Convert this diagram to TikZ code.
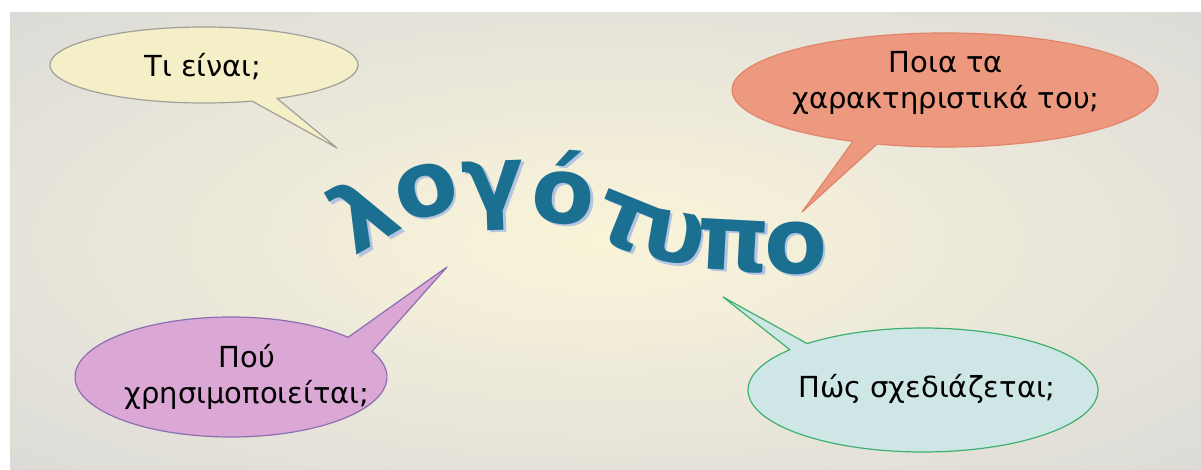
\documentclass[tikz,border=0pt]{standalone}
\usepackage{fontspec}
\setmainfont{DejaVu Sans}
\newfontfamily\logofont{DejaVu Sans}
\definecolor{bgc}{RGB}{249,243,215}
\definecolor{bgc2}{RGB}{245,240,217}
\definecolor{bgm}{RGB}{233,230,218}
\definecolor{bgm2}{RGB}{221,220,215}
\definecolor{bgo}{RGB}{212,212,212}
\definecolor{b1f}{RGB}{245,239,199}
\definecolor{b1d}{RGB}{160,160,155}
\definecolor{b2f}{RGB}{236,153,128}
\definecolor{b2d}{RGB}{226,132,106}
\definecolor{b3f}{RGB}{219,168,214}
\definecolor{b3d}{RGB}{140,110,178}
\definecolor{b4f}{RGB}{206,231,230}
\definecolor{b4d}{RGB}{62,176,112}
\definecolor{logoc}{RGB}{27,112,145}
\definecolor{shadowc}{RGB}{178,196,224}
\pgfdeclareradialshading{glow}{\pgfpoint{0bp}{0bp}}{color(0bp)=(bgc); color(7bp)=(bgc2); color(20bp)=(bgm); color(34bp)=(bgm2); color(46bp)=(bgo); color(50bp)=(bgo)}
\tikzset{
  bubble/.style={line width=1.2pt, line join=round},
  qtext/.style={font=\fontsize{29}{36}\selectfont, align=center, inner sep=0pt, text=black},
  logo/.style={font=\logofont\bfseries\fontsize{92}{92}\selectfont, text=logoc, anchor=base, inner sep=0pt}
}
\begin{document}
\begin{tikzpicture}[x=1pt,y=1pt]
\useasboundingbox (0,0) rectangle (1201,469);
\fill[bgo] (10,0) rectangle (1201,456);
\shade[shading=glow] (10,0) rectangle (1201,456);
% tails' tips
\coordinate (tip1) at (337,321);
\coordinate (tip2) at (802,257);
\coordinate (tip3) at (447,202);
\coordinate (tip4) at (723,172);
% bubbles
\draw[bubble, draw=b1d, fill=b1f] (204,404) ++(298.3:154 and 38)
  arc[start angle=298.3, end angle=648.2, x radius=154, y radius=38] -- (tip1) -- cycle;
\draw[bubble, draw=b2d, fill=b2f] (945,379) ++(251.4:213 and 57)
  arc[start angle=251.4, end angle=604.4, x radius=213, y radius=57] -- (tip2) -- cycle;
\draw[bubble, draw=b3d, fill=b3f] (231,92) ++(41.4:156 and 60)
  arc[start angle=41.4, end angle=385.3, x radius=156, y radius=60] -- (tip3) -- cycle;
\draw[bubble, draw=b4d, fill=b4f] (923,79) ++(139.5:175 and 62)
  arc[start angle=139.5, end angle=491.5, x radius=175, y radius=62] -- (tip4) -- cycle;
% texts
\node[qtext, anchor=base] (q1) at (203,392) {Τι είναι;};
\node[qtext] (q2) at (946,386) {Ποια τα\\χαρακτηριστικά του;};
\node[qtext] (q3) at (247,92) {Πού\\χρησιμοποιείται;};
\node[qtext, anchor=base] (q4) at (927,72) {Πώς σχεδιάζεται;};
% logo word
\foreach \x/\y/\r/\c [count=\i] in {380/227/30/λ, 433/254/15/ο, 494/258/2/γ, 561/246/-5/ό, 616/224/-22/τ, 670/207/-10/υ, 732/199/-3/π, 796/196/0/ο}{
  \node[logo, text=shadowc, rotate=\r] (s\i) at (\x+2.5,\y-2.5) {\c};
  \node[logo, rotate=\r] (l\i) at (\x,\y) {\c};
}
\end{tikzpicture}
\end{document}
